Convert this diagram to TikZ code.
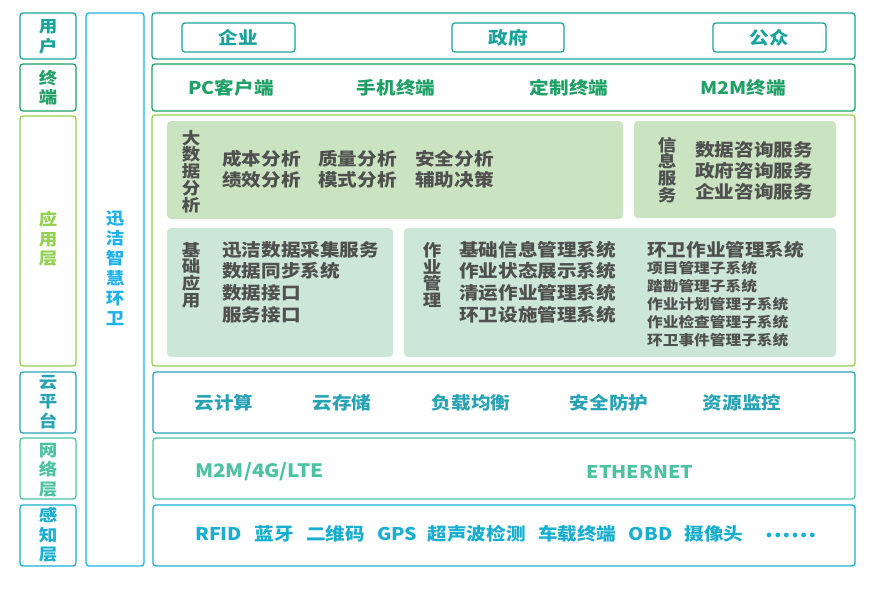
\documentclass[tikz,border=0pt]{standalone}
\usepackage{fontspec}
\setmainfont{Noto Sans CJK SC}[FakeStretch=1.12]
\newfontfamily\dotfont{DejaVu Sans}
\usetikzlibrary{positioning}

\definecolor{userc}{HTML}{1AA39A}
\definecolor{termc}{HTML}{1FA064}
\definecolor{appc}{HTML}{92D050}
\definecolor{brandc}{HTML}{1DB2E8}
\definecolor{cloudc}{HTML}{27A3B5}
\definecolor{netc}{HTML}{4CC3A0}
\definecolor{sensec}{HTML}{18AED0}
\definecolor{panelA}{HTML}{CAE4C1}
\definecolor{panelB}{HTML}{CCE6D8}
\definecolor{textc}{HTML}{505050}

\begin{document}
\begin{tikzpicture} [
	   x=1pt, y=-1pt,
	   band/.style   = { draw=#1, line width=1.3pt, rounded corners=3pt },
	   panel/.style  = { fill=#1, rounded corners=4pt },
	   tag/.style    = { text=#1, font=\fontsize{16.5}{19.5}\selectfont\bfseries, align=center, inner sep=0pt },
	   item/.style   = { text=#1, font=\fontsize{17.5}{20}\selectfont\bfseries, inner sep=0pt },
	   ptitle/.style = { text=textc, font=\fontsize{16.5}{16.8}\selectfont\bfseries, align=center, inner sep=0pt },
	   ptext/.style  = { text=textc, anchor=west, font=\fontsize{17.5}{20}\selectfont\bfseries, inner sep=0pt },
	   psmall/.style = { text=textc, anchor=west, font=\fontsize{14}{16}\selectfont\bfseries, inner sep=0pt },
	 ]
	\useasboundingbox (0,0) rectangle (876,589);

	% left column: layer names
	\path[band=userc]  (20,13)  rectangle (76,59);
	\path[band=termc]  (20,64)  rectangle (76,111);
	\path[band=appc]   (20,116) rectangle (76,366);
	\path[band=cloudc] (20,372) rectangle (76,433);
	\path[band=netc]   (20,438) rectangle (76,499);
	\path[band=sensec] (20,505) rectangle (76,566);

	\node[tag=userc]  (tuser)  at (48,37)    {用\\户};
	\node[tag=termc]  (tterm)  at (48,87.5)  {终\\端};
	\node[tag=appc]   (tapp)   at (48,239)   {应\\用\\层};
	\node[tag=cloudc] (tcloud) at (48,402)   {云\\平\\台};
	\node[tag=netc]   (tnet)   at (48,470)   {网\\络\\层};
	\node[tag=sensec] (tsense) at (48,535)   {感\\知\\层};

	% brand column
	\path[band=brandc] (86,13) rectangle (144,566);
	\node[tag=brandc, font=\fontsize{16.5}{20}\selectfont\bfseries] (brand) at (115,268) {迅\\洁\\智\\慧\\环\\卫};

	% layer boxes
	\path[band=userc]  (152,13)  rectangle (855,59);
	\path[band=termc]  (152,64)  rectangle (855,111);
	\path[band=appc]   (152,115) rectangle (855,366);
	\path[band=cloudc] (153,372) rectangle (855,433);
	\path[band=netc]   (153,438) rectangle (855,499);
	\path[band=sensec] (153,505) rectangle (855,566);

	% users
	\path[band=userc] (182,23) rectangle (295,52);
	\path[band=userc] (452,23) rectangle (564,52);
	\path[band=userc] (713,23) rectangle (826,52);
	\node[item=userc] (corp) at (238.5,37.5) {企业};
	\node[item=userc] (gov)  at (508,37.5)   {政府};
	\node[item=userc] (pub)  at (769.5,37.5) {公众};

	% terminals
	\node[item=termc] (pc)     at (231,87.5) {PC客户端};
	\node[item=termc] (phone)  at (396,87.5) {手机终端};
	\node[item=termc] (custom) at (569,87.5) {定制终端};
	\node[item=termc] (mtm)    at (743,87.5) {M2M终端};

	% application layer
	\path[panel=panelA] (167,121) rectangle (623,219);
	\path[panel=panelA] (634,121) rectangle (836,218);
	\path[panel=panelB] (167,228) rectangle (393,357);
	\path[panel=panelB] (404,228) rectangle (836,357);

	\node[ptitle] (bigdata) at (191,171.5) {大\\数\\据\\分\\析};
	\node[ptitle] (infosv)  at (667,170)   {信\\息\\服\\务};
	\node[ptitle] (basic)   at (191,275)   {基\\础\\应\\用};
	\node[ptitle] (opmgmt)  at (432,275)   {作\\业\\管\\理};

	\foreach \t/\x/\y [count=\i] in {成本分析/222/159, 质量分析/318/159, 安全分析/415/159,
	                                 绩效分析/222/180, 模式分析/318/180, 辅助决策/415/180}
		\node[ptext] (ana\i) at (\x,\y) {\t};
	\foreach \t [count=\i from 0] in {数据咨询服务, 政府咨询服务, 企业咨询服务}
		\node[ptext] (info\i) at (695,{150+21*\i}) {\t};
	\foreach \t [count=\i from 0] in {迅洁数据采集服务, 数据同步系统, 数据接口, 服务接口}
		\node[ptext] (base\i) at (222,{249.5+21.7*\i}) {\t};
	\foreach \t [count=\i from 0] in {基础信息管理系统, 作业状态展示系统, 清运作业管理系统, 环卫设施管理系统}
		\node[ptext] (ops\i) at (459,{249.5+21.7*\i}) {\t};
	\node[ptext] (sanit) at (647,250) {环卫作业管理系统};
	\foreach \t [count=\i from 0] in {项目管理子系统, 踏勘管理子系统, 作业计划管理子系统, 作业检查管理子系统, 环卫事件管理子系统}
		\node[psmall] (sub\i) at (647,{268.5+17.9*\i}) {\t};

	% cloud platform
	\node[item=cloudc] (compute) at (224,403) {云计算};
	\node[item=cloudc] (storage) at (342,403) {云存储};
	\node[item=cloudc] (balance) at (471,403) {负载均衡};
	\node[item=cloudc] (secure)  at (609,403) {安全防护};
	\node[item=cloudc] (monitor) at (742,403) {资源监控};

	% network
	\node[item=netc, anchor=west, font=\fontsize{18.5}{20}\selectfont\bfseries] (mobile) at (195,472) {M2M/4G/LTE};
	\node[item=netc] (ether)  at (640,472) {ETHERNET};

	% sensing
	\node[item=sensec, anchor=west] (rfid) at (195,534) {RFID};
	\node[item=sensec, right=12pt of rfid]  (bt)     {蓝牙};
	\node[item=sensec, right=12pt of bt]    (qr)     {二维码};
	\node[item=sensec, right=12pt of qr]    (gps)    {GPS};
	\node[item=sensec, right=10pt of gps]   (sonic)  {超声波检测};
	\node[item=sensec, right=12pt of sonic] (car)    {车载终端};
	\node[item=sensec, right=12pt of car]   (obd)    {OBD};
	\node[item=sensec, right=12pt of obd]   (camera) {摄像头};
	\node[item=sensec, right=21pt of camera, yshift=-3pt, font=\dotfont\fontsize{13.5}{14}\selectfont\bfseries] (more) {••••••};
	\end{tikzpicture}
\end{document}
